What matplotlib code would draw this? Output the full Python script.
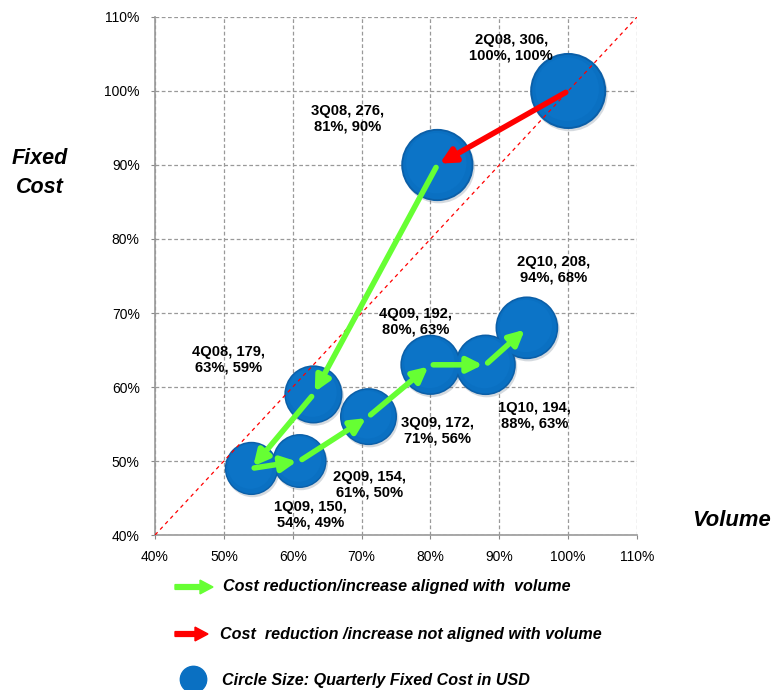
import matplotlib.pyplot as plt
from matplotlib.patches import FancyArrow
from matplotlib.lines import Line2D

plt.rcParams['font.family'] = ['Liberation Sans', 'DejaVu Sans']

# quarter, fixed cost (USD), volume %, fixed cost %
quarters = ['2Q08', '3Q08', '4Q08', '1Q09', '2Q09', '3Q09', '4Q09', '1Q10', '2Q10']
cost_usd = [306, 276, 179, 150, 154, 172, 192, 194, 208]
volume = [100, 81, 63, 54, 61, 71, 80, 88, 94]
fixed = [100, 90, 59, 49, 50, 56, 63, 63, 68]

# label offsets in pixels from bubble centre
label_dx = [-57, -90, -85, 59, 70, 69, -15, 49, 27]
label_dy = [43, 46, 35, -46, -24, -14, 43, -51, 58]

ticks = [40, 50, 60, 70, 80, 90, 100, 110]
blue = '#0A70C2'
green = '#66FF33'
red = '#FF0000'

fig = plt.figure(figsize=(7.72, 6.9), dpi=100)
ax = fig.add_axes([0.2008, 0.2246, 0.6244, 0.7508])

ax.set_xlim(40, 110)
ax.set_ylim(40, 110)
ax.set_xticks(ticks)
ax.set_yticks(ticks)
ax.set_xticklabels([f'{t}%' for t in ticks])
ax.set_yticklabels([f'{t}%' for t in ticks])
ax.tick_params(labelsize=10, length=3, color='#888888', pad=8)
ax.grid(True, linestyle=(0, (3, 2)), color='#999999', linewidth=0.9)
ax.set_axisbelow(True)
for side in ['top', 'right']:
    ax.spines[side].set_visible(False)
for side in ['left', 'bottom']:
    ax.spines[side].set_color('#999999')
    ax.spines[side].set_linewidth(1.2)

# bubbles: area proportional to fixed cost, darker rim and a soft highlight
sizes = [c * 9.8 for c in cost_usd]
ax.scatter([v + 0.2 for v in volume], [f - 0.3 for f in fixed], s=sizes,
           color='#1a3550', alpha=0.18, linewidths=0, zorder=2)
ax.scatter(volume, fixed, s=sizes, color='#0B5FA8', linewidths=0, zorder=3)
ax.scatter(volume, fixed, s=[s * 0.9 for s in sizes], color=blue,
           linewidths=0, zorder=4)
ax.scatter([v - 0.15 for v in volume], [f + 0.25 for f in fixed],
           s=[s * 0.7 for s in sizes], color='#0E78CC', alpha=0.5,
           linewidths=0, zorder=4)

# diagonal reference line
ax.plot([40, 110], [40, 110], color='red', linestyle=(0, (3, 3)),
        linewidth=0.9, zorder=6)

# arrows between consecutive quarters
for i in range(len(quarters) - 1):
    c = red if i == 0 else green
    ax.annotate('', xy=(volume[i + 1], fixed[i + 1]), xytext=(volume[i], fixed[i]),
                arrowprops=dict(arrowstyle='-|>,head_length=0.9,head_width=0.45',
                                color=c, lw=4, shrinkA=2, shrinkB=2),
                zorder=7)

for i, q in enumerate(quarters):
    txt = f'{q}, {cost_usd[i]},\n{volume[i]}%, {fixed[i]}%'
    ax.annotate(txt, (volume[i], fixed[i]), xytext=(label_dx[i], label_dy[i]),
                textcoords='offset pixels', ha='center', va='center',
                fontsize=10.6, fontweight='bold', linespacing=1.15, zorder=8)

fig.text(40 / 772, 1 - 173 / 690, 'Fixed\nCost', ha='center', va='center',
         fontsize=15.5, fontweight='bold', fontstyle='italic', linespacing=1.5)
fig.text(732 / 772, 1 - 521 / 690, 'Volume', ha='center', va='center',
         fontsize=15.8, fontweight='bold', fontstyle='italic')

# legend
for y, length, c in [(587, 38, green), (634, 33, red)]:
    fig.patches.append(FancyArrow(175 / 772, 1 - y / 690, length / 772, 0,
                                  width=0.007, head_width=0.02,
                                  head_length=13 / 772,
                                  length_includes_head=True, color=c,
                                  transform=fig.transFigure, figure=fig))
fig.add_artist(Line2D([193 / 772], [1 - 679 / 690], marker='o', markersize=19,
                      color=blue, transform=fig.transFigure))
legend_style = dict(fontsize=11.6, fontweight='bold', fontstyle='italic', va='center')
fig.text(223 / 772, 1 - 587 / 690, 'Cost reduction/increase aligned with  volume',
         **legend_style)
fig.text(220 / 772, 1 - 634 / 690, 'Cost  reduction /increase not aligned with volume',
         **legend_style)
fig.text(222 / 772, 1 - 681 / 690, 'Circle Size: Quarterly Fixed Cost in USD',
         **legend_style)

fig.savefig('out.png', dpi=100)
